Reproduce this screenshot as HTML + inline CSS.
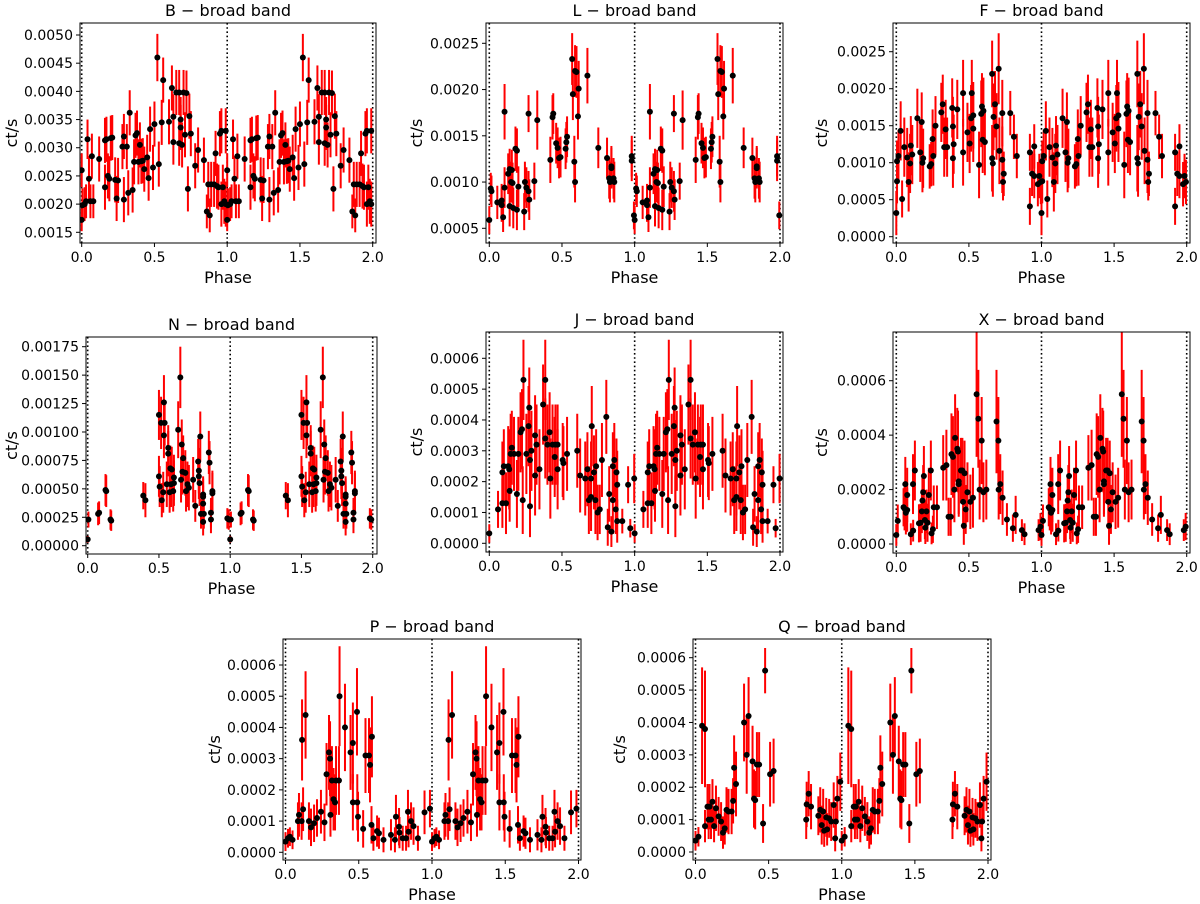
<!DOCTYPE html>
<html><head><meta charset="utf-8"><style>
html,body{margin:0;padding:0;background:#fff}
svg{display:block;font-family:"DejaVu Sans","Liberation Sans",sans-serif}
</style></head><body>
<svg id="fig" width="1200" height="904" viewBox="0 0 1200 904" xmlns="http://www.w3.org/2000/svg"></svg>
<script>
// ---- data (one phase cycle each; drawn twice, phase and phase+1) ----
const B_phase=[0,0,0.005,0.02,0.03,0.04,0.05,0.06,0.07,0.08,0.12,0.16,0.16,0.17,0.18,0.19,0.2,0.21,0.23,0.24,0.25,0.28,0.29,0.29,0.31,0.32,0.33,0.35,0.36,0.37,0.38,0.39,0.4,0.41,0.42,0.43,0.45,0.46,0.47,0.49,0.5,0.52,0.53,0.55,0.56,0.6,0.62,0.63,0.63,0.65,0.67,0.67,0.68,0.68,0.69,0.7,0.71,0.72,0.73,0.74,0.75,0.78,0.8,0.84,0.86,0.87,0.88,0.89,0.91,0.92,0.93,0.94,0.95,0.96,0.96,0.97,0.98,0.99,0.99];
const B_val=[0.00172,0.0026,0.00198,0.002,0.00205,0.00315,0.00245,0.00205,0.00285,0.00205,0.0028,0.0023,0.00313,0.00315,0.0025,0.00245,0.00317,0.00318,0.00243,0.0021,0.00242,0.00302,0.0032,0.00208,0.00302,0.0022,0.00362,0.00225,0.00275,0.00322,0.00326,0.00275,0.00305,0.00276,0.00277,0.00262,0.00283,0.00246,0.00333,0.00265,0.00342,0.0046,0.00271,0.00345,0.0042,0.00346,0.00406,0.00355,0.0031,0.00398,0.00398,0.00308,0.0035,0.00336,0.00305,0.00398,0.00323,0.00397,0.00227,0.00356,0.00325,0.00268,0.00296,0.00278,0.00187,0.00235,0.0018,0.00235,0.00235,0.0029,0.00232,0.0023,0.00325,0.0033,0.002,0.0023,0.00205,0.0033,0.002];
const B_err=[0.0002,0.0003,0.0003,0.0003,0.0003,0.00035,0.0004,0.0003,0.0004,0.0003,0.0004,0.0004,0.0004,0.0004,0.0004,0.0004,0.0004,0.0004,0.0004,0.0004,0.0004,0.0004,0.0004,0.0004,0.0004,0.0004,0.0004,0.0004,0.0004,0.0004,0.0004,0.0004,0.0004,0.0004,0.0004,0.0004,0.0004,0.0004,0.0004,0.0004,0.0004,0.00042,0.0004,0.0004,0.0004,0.0004,0.0004,0.0004,0.0004,0.0004,0.0004,0.0004,0.0004,0.0004,0.0004,0.0004,0.0004,0.0004,0.0004,0.0004,0.0004,0.0004,0.0004,0.0004,0.0003,0.0004,0.0003,0.0004,0.0004,0.0004,0.0004,0.0004,0.0004,0.0004,0.0004,0.0004,0.0004,0.0004,0.0004];

const L_phase=[0,0.01,0.015,0.055,0.085,0.085,0.095,0.105,0.105,0.13,0.14,0.14,0.15,0.155,0.16,0.165,0.18,0.19,0.19,0.2,0.24,0.245,0.255,0.27,0.27,0.275,0.31,0.33,0.42,0.435,0.44,0.46,0.47,0.48,0.49,0.525,0.53,0.535,0.57,0.575,0.585,0.59,0.59,0.6,0.61,0.615,0.675,0.75,0.81,0.825,0.83,0.84,0.84,0.855,0.86,0.98,0.98,0.995];
const L_val=[0.00059,0.00093,0.0009,0.00078,0.0008,0.00075,0.00062,0.00176,0.00094,0.00109,0.00114,0.00074,0.001,0.00113,0.00099,0.00072,0.00136,0.00134,0.0007,0.00095,0.00068,0.001,0.00094,0.00174,0.0009,0.00081,0.00101,0.00167,0.00124,0.0017,0.00174,0.00142,0.00137,0.00126,0.00127,0.00136,0.00143,0.00149,0.00233,0.00195,0.00122,0.001,0.0022,0.00219,0.00171,0.00201,0.00215,0.00137,0.00126,0.00104,0.001,0.00117,0.00115,0.00104,0.001,0.00128,0.00123,0.00064];
const L_err=[0.00015,0.00017,0.00017,0.00018,0.00018,0.00018,0.00016,0.0003,0.00022,0.00022,0.00022,0.00022,0.00022,0.00022,0.00022,0.00022,0.00024,0.00024,0.00022,0.00022,0.0002,0.00022,0.00022,0.0002,0.00022,0.00022,0.0002,0.00032,0.00025,0.00024,0.00022,0.00022,0.00022,0.00022,0.00022,0.00022,0.00022,0.00022,0.00028,0.00028,0.00028,0.00022,0.00028,0.00028,0.00025,0.0003,0.0003,0.00022,0.00022,0.00022,0.00022,0.00022,0.00022,0.00022,0.00022,0.00022,0.00022,0.00015];

const F_phase=[0,0.005,0.005,0.015,0.03,0.04,0.055,0.075,0.085,0.095,0.1,0.11,0.145,0.165,0.175,0.18,0.185,0.23,0.24,0.25,0.255,0.27,0.31,0.32,0.33,0.34,0.35,0.385,0.39,0.39,0.395,0.42,0.46,0.46,0.49,0.505,0.515,0.52,0.53,0.53,0.57,0.585,0.59,0.595,0.6,0.61,0.66,0.66,0.665,0.67,0.68,0.69,0.705,0.71,0.73,0.73,0.735,0.74,0.785,0.81,0.83,0.92,0.92,0.935,0.95,0.95,0.975,0.985,0.995];
const F_val=[0.00032,0.00075,0.00102,0.00109,0.00143,0.00051,0.00121,0.00107,0.00074,0.00099,0.00123,0.00111,0.0016,0.00114,0.00155,0.001,0.00106,0.00095,0.00098,0.00132,0.00109,0.0015,0.00168,0.00179,0.00121,0.00145,0.00121,0.00174,0.00149,0.00106,0.00125,0.00172,0.00194,0.00114,0.00141,0.00126,0.0016,0.00194,0.00164,0.00146,0.00097,0.00166,0.00176,0.00131,0.0017,0.00128,0.0022,0.00106,0.00099,0.00162,0.00179,0.00149,0.00227,0.00116,0.00167,0.00104,0.00074,0.00085,0.00167,0.00135,0.00109,0.00041,0.00114,0.00085,0.00122,0.00082,0.00071,0.00082,0.00074];
const F_err=[0.0003,0.0003,0.00028,0.00035,0.0004,0.00025,0.0004,0.0004,0.0004,0.0004,0.0004,0.0004,0.0004,0.0004,0.0004,0.0004,0.0004,0.0003,0.0003,0.0004,0.0004,0.0004,0.0004,0.0004,0.0004,0.0004,0.0004,0.0004,0.0004,0.0004,0.0004,0.0004,0.00045,0.00045,0.0004,0.0004,0.00045,0.00045,0.00045,0.00045,0.00045,0.00045,0.00045,0.00045,0.00045,0.00045,0.00045,0.00045,0.00045,0.00045,0.00045,0.00045,0.00048,0.00045,0.00045,0.00045,0.00025,0.0003,0.0003,0.0003,0.0003,0.00025,0.00025,0.0003,0.0003,0.0003,0.0003,0.0003,0.0003];

const N_phase=[0,0.005,0.073,0.08,0.125,0.13,0.16,0.165,0.39,0.405,0.5,0.5,0.505,0.515,0.52,0.53,0.535,0.535,0.54,0.555,0.565,0.565,0.575,0.58,0.585,0.59,0.6,0.605,0.605,0.635,0.65,0.655,0.66,0.665,0.67,0.685,0.69,0.7,0.71,0.74,0.755,0.775,0.78,0.78,0.785,0.79,0.795,0.81,0.81,0.81,0.81,0.815,0.85,0.855,0.865,0.865,0.875,0.875,0.98,0.99];
const N_val=[0.000056,0.00023,0.00028,0.00029,0.00049,0.00048,0.00023,0.00022,0.00044,0.0004,0.00115,0.00061,0.00052,0.00108,0.0004,0.00047,0.00126,0.00097,0.00108,0.00054,0.00086,0.00081,0.00047,0.00068,0.00054,0.00067,0.00048,0.0006,0.00055,0.00102,0.00148,0.00058,0.00089,0.00065,0.00077,0.00064,0.00048,0.00054,0.00051,0.00058,0.00035,0.00074,0.00066,0.00061,0.00055,0.00096,0.00028,0.00037,0.00045,0.00043,0.00021,0.00028,0.00082,0.00073,0.00029,0.00023,0.00048,0.00046,0.00024,0.00023];
const N_err=[0.00003,0.00007,0.0001,0.0001,0.00014,0.00014,0.00009,0.00009,0.00012,0.00015,0.00022,0.00018,0.00018,0.00023,0.00015,0.00018,0.00024,0.0002,0.0002,0.0002,0.0002,0.0002,0.00018,0.0002,0.0002,0.0002,0.00018,0.0002,0.0002,0.00025,0.00027,0.0002,0.00022,0.0002,0.0002,0.0002,0.00018,0.0002,0.0002,0.0002,0.00014,0.0002,0.0002,0.0002,0.0002,0.00022,0.00013,0.00016,0.00016,0.00016,0.00012,0.00013,0.00019,0.00019,0.00013,0.00012,0.00018,0.00018,0.00009,0.00009];

const J_phase=[0,0.06,0.09,0.09,0.1,0.115,0.13,0.137,0.14,0.147,0.155,0.17,0.19,0.2,0.215,0.225,0.23,0.235,0.255,0.27,0.275,0.28,0.28,0.29,0.315,0.315,0.325,0.345,0.37,0.385,0.385,0.4,0.415,0.42,0.435,0.45,0.455,0.47,0.47,0.505,0.51,0.535,0.605,0.625,0.66,0.675,0.685,0.7,0.7,0.705,0.72,0.73,0.735,0.745,0.76,0.775,0.805,0.815,0.825,0.84,0.85,0.85,0.86,0.87,0.875,0.88,0.88,0.915,0.955,0.97,0.997];
const J_val=[0.000032,0.00011,0.00023,0.00013,0.00025,0.00013,0.00025,0.00024,0.00017,0.00029,0.00031,0.00029,0.00016,0.00029,0.00036,0.00037,0.00014,0.00053,0.00029,0.00038,0.00044,0.00027,0.00012,0.0003,0.00035,0.00022,0.00032,0.00024,0.00045,0.00053,0.00034,0.00032,0.00036,0.00021,0.00032,0.00028,0.00032,0.00032,0.00024,0.00027,0.00026,0.00029,0.0003,0.00022,0.00021,0.00024,0.00014,0.00021,0.00015,0.00038,0.00023,0.00014,0.00025,0.0001,0.00011,0.00027,0.00041,0.000052,0.00016,0.000038,0.00025,0.00014,0.00027,0.00011,0.00023,0.00019,0.000072,0.000072,0.00019,0.000049,0.00021];
const J_err=[0.00003,0.00006,0.0001,0.00008,0.00012,0.0001,0.00013,0.00013,0.0001,0.00013,0.00012,0.00012,0.00011,0.00012,0.00013,0.00013,0.00011,0.00013,0.00013,0.00013,0.00013,0.00013,0.0001,0.00013,0.00013,0.00013,0.00013,0.00013,0.00013,0.00013,0.00013,0.00013,0.00013,0.00013,0.00013,0.00013,0.00013,0.00013,0.00013,0.00012,0.00012,0.00012,0.00012,0.00012,0.00012,0.00012,0.00011,0.00012,0.00011,0.00013,0.00012,0.00011,0.00012,0.00009,0.00008,0.00012,0.00012,0.00006,0.00009,0.00005,0.00011,0.00011,0.00012,0.00008,0.00011,0.00011,0.00007,0.00004,0.00006,0.00003,0.00008];

const X_phase=[0,0.01,0.05,0.057,0.062,0.066,0.075,0.075,0.1,0.115,0.116,0.128,0.156,0.167,0.176,0.18,0.185,0.19,0.197,0.2,0.208,0.215,0.224,0.238,0.243,0.252,0.258,0.28,0.323,0.345,0.36,0.375,0.38,0.39,0.4,0.405,0.42,0.425,0.43,0.43,0.445,0.455,0.46,0.465,0.47,0.478,0.49,0.51,0.528,0.553,0.565,0.574,0.588,0.6,0.62,0.69,0.703,0.705,0.716,0.732,0.762,0.803,0.822,0.865,0.883,0.98,0.993];
const X_val=[0.000033,0.000085,0.000135,0.00013,0.00022,0.000115,0.000125,0.00018,0.000036,0.00022,0.000049,0.00027,0.000076,0.000078,0.00012,0.00016,0.00019,0.00025,0.000088,0.00006,0.00012,0.000078,0.00018,0.00027,0.000039,0.000054,0.000135,0.000135,0.00028,0.00029,0.0001,0.0001,0.00033,0.00032,0.0002,0.00039,0.00035,0.00034,0.00022,0.00023,0.00027,0.00027,0.000155,0.000067,0.00026,0.000127,0.00019,0.000155,0.00017,0.00055,0.00046,0.0002,0.00038,0.00019,0.0002,0.00045,0.00038,0.0002,0.00022,0.00017,0.00009,0.000058,0.000107,0.000051,0.000036,0.000051,0.000064];
const X_err=[0.00004,0.00006,0.00007,0.00008,0.0001,0.00008,0.00008,0.0001,0.00004,0.00011,0.00004,0.00011,0.00007,0.00007,0.00008,0.00009,0.0001,0.00011,0.00007,0.00006,0.00008,0.00007,0.0001,0.00011,0.00004,0.00005,0.00008,0.00008,0.00012,0.00013,0.00007,0.00007,0.00015,0.00015,0.00012,0.00016,0.00015,0.00015,0.00012,0.00012,0.00012,0.00012,0.0001,0.00007,0.00012,0.00009,0.00011,0.0001,0.00011,0.00023,0.00018,0.00011,0.00016,0.00011,0.00011,0.00019,0.00016,0.00011,0.00011,0.0001,0.00006,0.00005,0.00007,0.00004,0.00004,0.00004,0.00005];

const P_phase=[0,0.017,0.03,0.048,0.085,0.092,0.11,0.113,0.12,0.137,0.16,0.174,0.195,0.215,0.242,0.266,0.28,0.297,0.304,0.307,0.317,0.328,0.338,0.345,0.365,0.369,0.406,0.444,0.46,0.46,0.488,0.49,0.495,0.53,0.546,0.57,0.577,0.59,0.587,0.6,0.625,0.638,0.669,0.72,0.747,0.754,0.775,0.778,0.8,0.823,0.836,0.84,0.857,0.874,0.904,0.949,0.986];
const P_val=[0.000034,0.000045,0.00005,0.00004,0.0001,0.00012,0.0001,0.00036,0.000138,0.00044,0.0001,0.00008,0.000093,0.00011,0.00013,0.000096,0.00025,0.00032,0.0003,0.00012,0.00023,0.00017,0.00016,0.00023,0.00023,0.0005,0.0004,0.00032,0.00035,0.00016,0.00045,0.00016,0.000114,0.000075,0.00031,0.00031,0.00028,0.00037,0.000088,0.000045,0.000068,0.000061,0.00004,0.000056,0.00004,0.000114,0.000082,0.000063,0.000045,0.000045,0.00013,0.000066,0.0001,0.000084,0.000045,0.000128,0.00014];
const P_err=[0.00003,0.00003,0.00003,0.00003,0.00006,0.00007,0.00006,0.00013,0.00007,0.00014,0.00006,0.00006,0.00006,0.00006,0.00007,0.00006,0.0001,0.00012,0.00012,0.00007,0.00011,0.0001,0.00009,0.00011,0.00011,0.00016,0.00014,0.00012,0.00013,0.00009,0.00014,0.00009,0.00008,0.00006,0.00012,0.00012,0.00012,0.00013,0.00006,0.00004,0.00005,0.00005,0.00004,0.00005,0.00004,0.00007,0.00006,0.00005,0.00004,0.00004,0.00007,0.00005,0.00006,0.00006,0.00004,0.00007,0.00006];

const Q_phase=[0,0.02,0.045,0.065,0.065,0.082,0.09,0.096,0.106,0.116,0.127,0.14,0.158,0.175,0.188,0.2,0.212,0.226,0.247,0.257,0.264,0.277,0.332,0.35,0.363,0.39,0.4,0.408,0.42,0.435,0.462,0.476,0.51,0.534,0.757,0.76,0.774,0.79,0.84,0.853,0.863,0.873,0.88,0.894,0.9,0.914,0.928,0.945,0.955,0.96,0.97,0.99];
const Q_val=[0.000035,0.000047,0.00039,0.00038,0.00008,0.00014,0.0001,0.00014,0.0001,0.000155,0.00008,0.000135,0.00011,0.000094,0.00006,0.000073,0.00013,0.000125,0.000125,0.000158,0.00026,0.00021,0.0004,0.0003,0.00042,0.00028,0.000165,0.00016,0.00027,0.00027,0.000088,0.00056,0.00024,0.00025,0.0001,0.000147,0.00018,0.00014,0.000112,0.00013,0.000083,0.000125,0.000066,0.000107,0.00007,0.000104,0.000094,0.000145,0.000042,0.000094,0.000165,0.000217];
const Q_err=[0.00003,0.00003,0.00018,0.00018,0.00005,0.00007,0.00006,0.00007,0.00006,0.00007,0.00005,0.00007,0.00006,0.00006,0.00005,0.00005,0.00007,0.00007,0.00007,0.00007,0.0001,0.0001,0.00012,0.00012,0.00012,0.00011,0.00009,0.00009,0.0001,0.0001,0.00006,0.00007,0.0001,0.0001,0.00006,0.00007,0.00007,0.00007,0.00006,0.00007,0.00006,0.00007,0.00005,0.00006,0.00005,0.00006,0.00006,0.00007,0.00004,0.00006,0.00007,0.00009];

const xTickVals=[0,0.5,1,1.5,2];
const xTickLabels=["0.0","0.5","1.0","1.5","2.0"];
const B_ticks=[0.0015,0.002,0.0025,0.003,0.0035,0.004,0.0045,0.005];
const B_tickLabels=["0.0015","0.0020","0.0025","0.0030","0.0035","0.0040","0.0045","0.0050"];
const L_ticks=[0.0005,0.001,0.0015,0.002,0.0025];
const L_tickLabels=["0.0005","0.0010","0.0015","0.0020","0.0025"];
const F_ticks=[0,0.0005,0.001,0.0015,0.002,0.0025];
const F_tickLabels=["0.0000","0.0005","0.0010","0.0015","0.0020","0.0025"];
const N_ticks=[0,0.00025,0.0005,0.00075,0.001,0.00125,0.0015,0.00175];
const N_tickLabels=["0.00000","0.00025","0.00050","0.00075","0.00100","0.00125","0.00150","0.00175"];
const J_ticks=[0,0.0001,0.0002,0.0003,0.0004,0.0005,0.0006];
const J_tickLabels=["0.0000","0.0001","0.0002","0.0003","0.0004","0.0005","0.0006"];
const X_ticks=[0,0.0002,0.0004,0.0006];
const X_tickLabels=["0.0000","0.0002","0.0004","0.0006"];
const P_ticks=J_ticks, P_tickLabels=J_tickLabels, Q_ticks=J_ticks, Q_tickLabels=J_tickLabels;

// ---- layout (pixels) ----
const panels=[
 {key:"b",title:"B \u2212 broad band",box:[80,23,376,243],xp:[81.7,372.7],ya:[0.0015,232.3,0.005,35],ph:B_phase,v:B_val,e:B_err,t:B_ticks,tl:B_tickLabels,ylx:16},
 {key:"l",title:"L \u2212 broad band",box:[486,23,783,243],xp:[489.3,780],ya:[0.0005,228.3,0.0025,43.3],ph:L_phase,v:L_val,e:L_err,t:L_ticks,tl:L_tickLabels,ylx:421},
 {key:"f",title:"F \u2212 broad band",box:[893,23,1190,243],xp:[896.3,1186.7],ya:[0,236.7,0.0025,51.7],ph:F_phase,v:F_val,e:F_err,t:F_ticks,tl:F_tickLabels,ylx:826},
 {key:"n",title:"N \u2212 broad band",box:[86,337,377,554],xp:[87.7,372.7],ya:[0,545.7,0.00175,346.7],ph:N_phase,v:N_val,e:N_err,t:N_ticks,tl:N_tickLabels,ylx:16},
 {key:"j",title:"J \u2212 broad band",box:[486,332,783,552],xp:[489.3,780],ya:[0,543.3,0.0006,358.3],ph:J_phase,v:J_val,e:J_err,t:J_ticks,tl:J_tickLabels,ylx:421},
 {key:"x",title:"X \u2212 broad band",box:[893,332,1190,553],xp:[896.3,1186.7],ya:[0,544,0.0006,380.7],ph:X_phase,v:X_val,e:X_err,t:X_ticks,tl:X_tickLabels,ylx:826},
 {key:"p",title:"P \u2212 broad band",box:[283,639,581,860],xp:[285.5,578.5],ya:[0,852.3,0.0006,665],ph:P_phase,v:P_val,e:P_err,t:P_ticks,tl:P_tickLabels,ylx:219},
 {key:"q",title:"Q \u2212 broad band",box:[693,639,991,860],xp:[695.5,988],ya:[0,852,0.0006,657.7],ph:Q_phase,v:Q_val,e:Q_err,t:Q_ticks,tl:Q_tickLabels,ylx:624}
];
const NS="http://www.w3.org/2000/svg";
const svg=document.getElementById("fig");
function mk(tag,attrs,parent){const el=document.createElementNS(NS,tag);for(const k in attrs)el.setAttribute(k,attrs[k]);(parent||svg).appendChild(el);return el;}
panels.forEach(p=>{
  const [l,t,r,b]=p.box;
  const X=ph=>p.xp[0]+ph*(p.xp[1]-p.xp[0])/2;
  const Y=v=>p.ya[1]+(v-p.ya[0])*(p.ya[3]-p.ya[1])/(p.ya[2]-p.ya[0]);
  const g=mk("g",{});
  
  
  const cp=mk("clipPath",{id:"clip-"+p.key},g);
  mk("rect",{x:l,y:t,width:r-l,height:b-t},cp);
  [0,1,2].forEach(v=>{
    const ln=mk("line",{x1:X(v),x2:X(v),y1:t,y2:b,stroke:"#000","stroke-width":1.6,"stroke-dasharray":"1.6,2.6"},g);
    
    
  });
  const dg=mk("g",{"clip-path":"url(#clip-"+p.key+")"},g);
  
  
  const pts=[];
  [0,1].forEach(c=>p.ph.forEach((ph,i)=>pts.push([ph+c,p.v[i],p.e[i]])));
  pts.forEach(q=>{
    const eb=mk("line",{x1:X(q[0]),x2:X(q[0]),y1:Y(q[1]-q[2]),y2:Y(q[1]+q[2]),stroke:"#ff0000","stroke-width":2},dg);
    
    
  });
  pts.forEach(q=>{
    const m=mk("circle",{cx:X(q[0]),cy:Y(q[1]),r:3,fill:"#000"},dg);
    
    
  });
  const fr=mk("rect",{x:l,y:t,width:r-l,height:b-t,fill:"none",stroke:"#000","stroke-width":1},g);
  
  
  xTickVals.forEach((v,i)=>{
    mk("line",{x1:X(v),x2:X(v),y1:b,y2:b+4,stroke:"#000","stroke-width":1},g);
    const tx=mk("text",{x:X(v),y:b+19,"font-size":14,"text-anchor":"middle",fill:"#000"},g);
    tx.textContent=xTickLabels[i];
    
    
  });
  p.t.forEach((v,i)=>{
    mk("line",{x1:l-4,x2:l,y1:Y(v),y2:Y(v),stroke:"#000","stroke-width":1},g);
    const tx=mk("text",{x:l-7,y:Y(v)+5,"font-size":14,"text-anchor":"end",fill:"#000"},g);
    tx.textContent=p.tl[i];
    
    
  });
  const tt=mk("text",{x:(l+r)/2,y:t-7,"font-size":16,"text-anchor":"middle",fill:"#000"},g);
  tt.textContent=p.title;
  
  
  const xl=mk("text",{x:(l+r)/2,y:b+40,"font-size":16,"text-anchor":"middle",fill:"#000"},g);
  xl.textContent="Phase";
  
  
  const yc=(t+b)/2;
  const yx=p.ylx+1;
  const yl=mk("text",{x:yx,y:yc,"font-size":16,"text-anchor":"middle",fill:"#000",transform:"rotate(-90 "+yx+" "+yc+")"},g);
  yl.textContent="ct/s";
  
  
});
</script>
</body></html>
